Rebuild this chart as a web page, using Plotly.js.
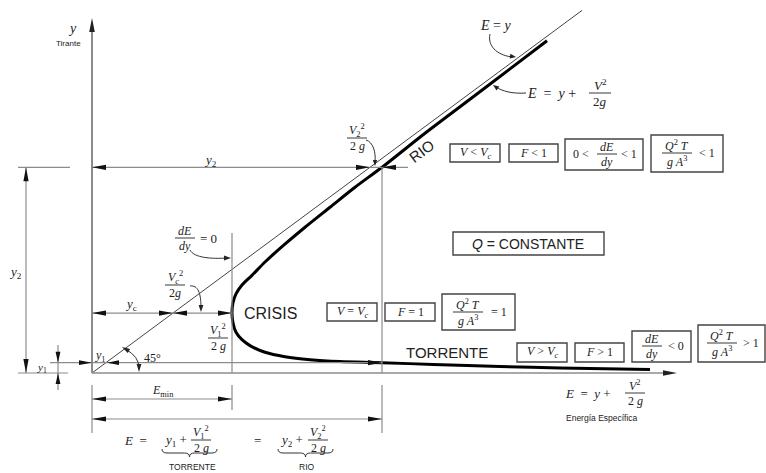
<!DOCTYPE html>
<html><head><meta charset="utf-8">
<script src="https://cdn.plot.ly/plotly-3.0.1.min.js"></script>
<style>html,body{margin:0;padding:0;background:#fff}</style>
</head><body><div id="chart" style="width:766px;height:473px"></div>
<script>
// ---- Data (x: specific energy E, y: depth) ----
const curveE = [4.55, 4.18, 3.78, 3.33, 2.90, 2.63, 2.38, 2.13, 1.92, 1.73, 1.60, 1.50, 1.44, 1.41, 1.40, 1.41, 1.44, 1.50, 1.58, 1.73, 1.93, 2.18, 2.48, 2.90, 3.41, 4.08, 4.68, 5.58];
const curveY = [4.49, 4.11, 3.70, 3.24, 2.78, 2.51, 2.24, 1.97, 1.73, 1.50, 1.32, 1.19, 1.07, 0.95, 0.81, 0.68, 0.55, 0.45, 0.37, 0.28, 0.22, 0.18, 0.155, 0.14, 0.115, 0.088, 0.068, 0.047];
const lineE = [0, 4.9];          // E = y
const lineY = [0, 4.9];
const Y1 = 0.14, YC = 0.81, Y2 = 2.78, EMIN = 1.40, E12 = 2.90;

// ---- helpers: pixel <-> data (plot area = full figure) ----
const X = px => (px - 92) / 100, Y = py => (373 - py) / 74;
const PX = x => 92 + 100 * x, PY = y => 373 - 74 * y;
const shapes = [], ann = [];
const SERIF = 'Liberation Serif, Times New Roman, serif';
const SANS = 'Liberation Sans, Arial, sans-serif';
const GRAY = '#8c8c8c';
function seg(a, b, c, d, color, width) {
  shapes.push({type:'line', xref:'x', yref:'y', x0:X(a), y0:Y(b), x1:X(c), y1:Y(d), line:{color:color||GRAY, width:width||1.2}});
}
function head(px, py, ang, L, W, color) {
  L = L || 14; W = W || 2.6;
  const t = ang * Math.PI / 180, c = Math.cos(t), s = Math.sin(t);
  const p1 = [-L*c - W*s, -L*s + W*c], p2 = [-L*c + W*s, -L*s - W*c];
  shapes.push({type:'path', xref:'x', yref:'y', xsizemode:'pixel', ysizemode:'pixel', xanchor:X(px), yanchor:Y(py),
    path:'M0,0L' + p1[0].toFixed(2) + ',' + p1[1].toFixed(2) + 'L' + p2[0].toFixed(2) + ',' + p2[1].toFixed(2) + 'Z',
    fillcolor:color||'#111', line:{width:0}});
}
function cpath(cmds, color, width) {
  let s = '';
  cmds.forEach(c => { s += c[0]; for (let i = 1; i < c.length; i += 2) s += (i > 1 ? ' ' : '') + X(c[i]).toFixed(4) + ',' + Y(c[i+1]).toFixed(4); });
  shapes.push({type:'path', xref:'x', yref:'y', path:s, line:{color:color||'#333', width:width||1}});
}
function txt(px, py, text, size, family, extra) {
  ann.push(Object.assign({x:X(px), y:Y(py), xref:'x', yref:'y', text:text, showarrow:false, xanchor:'center', yanchor:'middle',
    font:{family:family||SERIF, size:size||13, color:'#222'}}, extra||{}));
}
function frac(px, py, num, den, size, w) {
  txt(px, py - size*0.62, num, size); txt(px, py + size*0.68, den, size);
  seg(px - w/2, py, px + w/2, py, '#222', 0.9);
}
function box(a, b, c, d) {
  shapes.push({type:'rect', xref:'x', yref:'y', x0:X(a), y0:Y(b), x1:X(c), y1:Y(d), line:{color:'#444', width:1.4}});
}

const ox = PX(0), oy = PY(0);
const py1 = PY(Y1), pyc = PY(YC), py2 = PY(Y2), pxmin = PX(EMIN), pxE = PX(E12);
const pxL1 = PX(Y1), pxLc = PX(YC), pxL2 = PX(Y2);

// axes
seg(ox, oy, ox, 30, '#666', 1.5); head(ox, 18, 90, 14, 2.8, '#222');
seg(ox, oy, 665, oy, GRAY, 1.5); head(677, oy, 0, 14, 2.8, '#222');
// extension lines below the axis
seg(ox, 385, ox, 433); seg(pxmin, 385, pxmin, 410); seg(pxE, 385, pxE, 433);
// left dimensions
seg(18, py2, 70, py2); seg(18, oy, 68, oy);
seg(26, py2, 26, oy); head(26, py2, 90); head(26, oy, 270);
seg(58, 345, 58, 390); head(58, py1, 270, 11, 2.4); head(58, oy, 90, 11, 2.4);
seg(50, py1, ox, py1); head(ox, py1, 0, 13, 2.4);
// y1 level
seg(ox, py1, pxE, py1); head(pxL1 + 1, py1, 180, 12, 2.4); head(pxE, py1, 0, 14, 2.6);
// yc level
seg(ox, pyc, pxmin, pyc); head(ox, pyc, 180); head(pxLc, pyc, 0); head(pxLc, pyc, 180); head(pxmin, pyc, 0);
// y2 level
seg(ox, py2, pxE + 26, py2); head(ox, py2, 180); head(pxL2, py2, 0); head(pxE, py2, 180);
// verticals
seg(pxmin, 233, pxmin, oy); seg(pxE, py2, pxE, oy);
// Emin and E dimensions
seg(ox, 399, pxmin, 399); head(ox, 399, 180); head(pxmin, 399, 0);
seg(ox, 419, pxE, 419); head(ox, 419, 180); head(pxE, 419, 0);

// callout arrows
cpath([['M',490,34],['C',487,48,500,56,513,57]]); head(516,57,-8,6,2.4,'#222');
cpath([['M',526,93],['C',512,94,502,91,496,87]]); head(493,85,145,6,2.4,'#222');
cpath([['M',190,250],['C',194,258,212,259,227,258]]); head(231,258,0,7,2.4,'#222');
cpath([['M',190,286],['C',198,285,201,293,201,308]]); head(201,312,270,7,2.4,'#222');
cpath([['M',366,140],['C',373,142,376,152,375,162]]); head(375,166,270,6,2.2,'#222');
cpath([['M',125,349],['Q',139,356,139,368]]); head(122,347,150,8,2.4,'#222'); head(139,372,270,8,2.4,'#222');

// braces
function brace(a, b, t) {
  const m = (a + b) / 2;
  cpath([['M',a,t],['Q',a,t+4,a+5,t+4],['L',m-5,t+4],['Q',m,t+4,m,t+8],['Q',m,t+4,m+5,t+4],['L',b-5,t+4],['Q',b,t+4,b,t]], '#333', 1);
}
brace(162, 217, 449); brace(278, 333, 449);

// texts
txt(72, 28, '<i>y</i>', 14);
txt(68, 43, 'Tirante', 8, SANS);
txt(210, 160, '<i>y</i><sub>2</sub>', 13);
txt(15, 272, '<i>y</i><sub>2</sub>', 13);
txt(42, 368, '<i>y</i><sub>1</sub>', 11);
txt(100, 356, '<i>y</i><sub>1</sub>', 12);
txt(131, 304, '<i>y</i><sub>c</sub>', 13);
txt(152, 358, '45°', 12);
txt(495, 25, '<i>E</i> = <i>y</i>', 14);
txt(551, 93, '<i>E</i>  =  <i>y</i> +', 14);
frac(600, 93, '<i>V</i><sup>2</sup>', '2<i>g</i>', 13, 22);
frac(185, 238, '<i>dE</i>', '<i>dy</i>', 12, 20); txt(208, 238, '= 0', 13);
frac(175, 285, '<i>V<sub>c</sub></i><sup>2</sup>', '2<i>g</i>', 12, 20);
frac(218, 338, '<i>V</i><sub>1</sub><sup>2</sup>', '2 <i>g</i>', 12, 20);
frac(357, 138, '<i>V</i><sub>2</sub><sup>2</sup>', '2 <i>g</i>', 12, 20);
txt(421, 151, 'RIO', 15, SANS, {textangle:-37});
txt(270, 313, 'CRISIS', 16, SANS);
txt(447, 352, 'TORRENTE', 15, SANS);
// Q box
box(453, 232, 604, 255); txt(528, 244, '<i>Q</i> = CONSTANTE', 14, SANS);
// row RIO
box(450, 144, 500, 162); txt(475, 153, '<i>V</i> < <i>V<sub>c</sub></i>', 12);
box(509, 144, 558, 162); txt(533, 153, '<i>F</i> < 1', 12);
box(565, 139, 643, 170); txt(581, 154, '0 <', 12); frac(607, 154, '<i>dE</i>', '<i>dy</i>', 12, 20); txt(629, 154, '< 1', 12);
box(651, 135, 723, 172); frac(677, 153, '<i>Q</i><sup>2</sup> <i>T</i>', '<i>g A</i><sup>3</sup>', 12, 30); txt(707, 153, '< 1', 12);
// row CRISIS
box(327, 303, 377, 321); txt(352, 312, '<i>V</i> = <i>V<sub>c</sub></i>', 12);
box(385, 303, 435, 321); txt(410, 312, '<i>F</i> = 1', 12);
box(442, 294, 515, 330); frac(468, 312, '<i>Q</i><sup>2</sup> <i>T</i>', '<i>g A</i><sup>3</sup>', 12, 30); txt(499, 312, '= 1', 12);
// row TORRENTE
box(517, 343, 567, 362); txt(542, 352, '<i>V</i> > <i>V<sub>c</sub></i>', 12);
box(575, 343, 624, 362); txt(599, 352, '<i>F</i> > 1', 12);
box(632, 331, 691, 362); frac(652, 346, '<i>dE</i>', '<i>dy</i>', 12, 20); txt(676, 346, '< 0', 12);
box(698, 325, 765, 362); frac(722, 343, '<i>Q</i><sup>2</sup> <i>T</i>', '<i>g A</i><sup>3</sup>', 12, 30); txt(751, 343, '> 1', 12);
// bottom
txt(163, 391, '<i>E</i><sub>min</sub>', 12);
txt(135, 440, '<i>E</i>  =', 13);
txt(175, 440, '<i>y</i><sub>1</sub> +', 13);
frac(201, 440, '<i>V</i><sub>1</sub><sup>2</sup>', '2 <i>g</i>', 12, 20);
txt(257, 440, '=', 13);
txt(291, 440, '<i>y</i><sub>2</sub> +', 13);
frac(318, 440, '<i>V</i><sub>2</sub><sup>2</sup>', '2 <i>g</i>', 12, 20);
txt(192, 467, 'TORRENTE', 8.5, SANS);
txt(307, 467, 'RIO', 8.5, SANS);
txt(588, 393, '<i>E</i>  =  <i>y</i> +', 13);
frac(635, 393, '<i>V</i><sup>2</sup>', '2 <i>g</i>', 12, 20);
txt(602, 418, 'Energía Específica', 8.5, SANS);

const traces = [
  {x: lineE, y: lineY, mode:'lines', line:{color:'#444', width:1}, hoverinfo:'skip'},
  {x: curveE, y: curveY, mode:'lines', line:{color:'#000', width:3, shape:'spline', smoothing:0.8}, hoverinfo:'skip'}
];
const layout = {
  width:766, height:473, margin:{l:0, r:0, t:0, b:0}, showlegend:false,
  paper_bgcolor:'#fff', plot_bgcolor:'#fff',
  xaxis:{range:[X(0), X(766)], visible:false, fixedrange:true},
  yaxis:{range:[Y(473), Y(0)], visible:false, fixedrange:true},
  shapes:shapes, annotations:ann
};
Plotly.newPlot('chart', traces, layout, {staticPlot:true, displayModeBar:false});
</script></body></html>
